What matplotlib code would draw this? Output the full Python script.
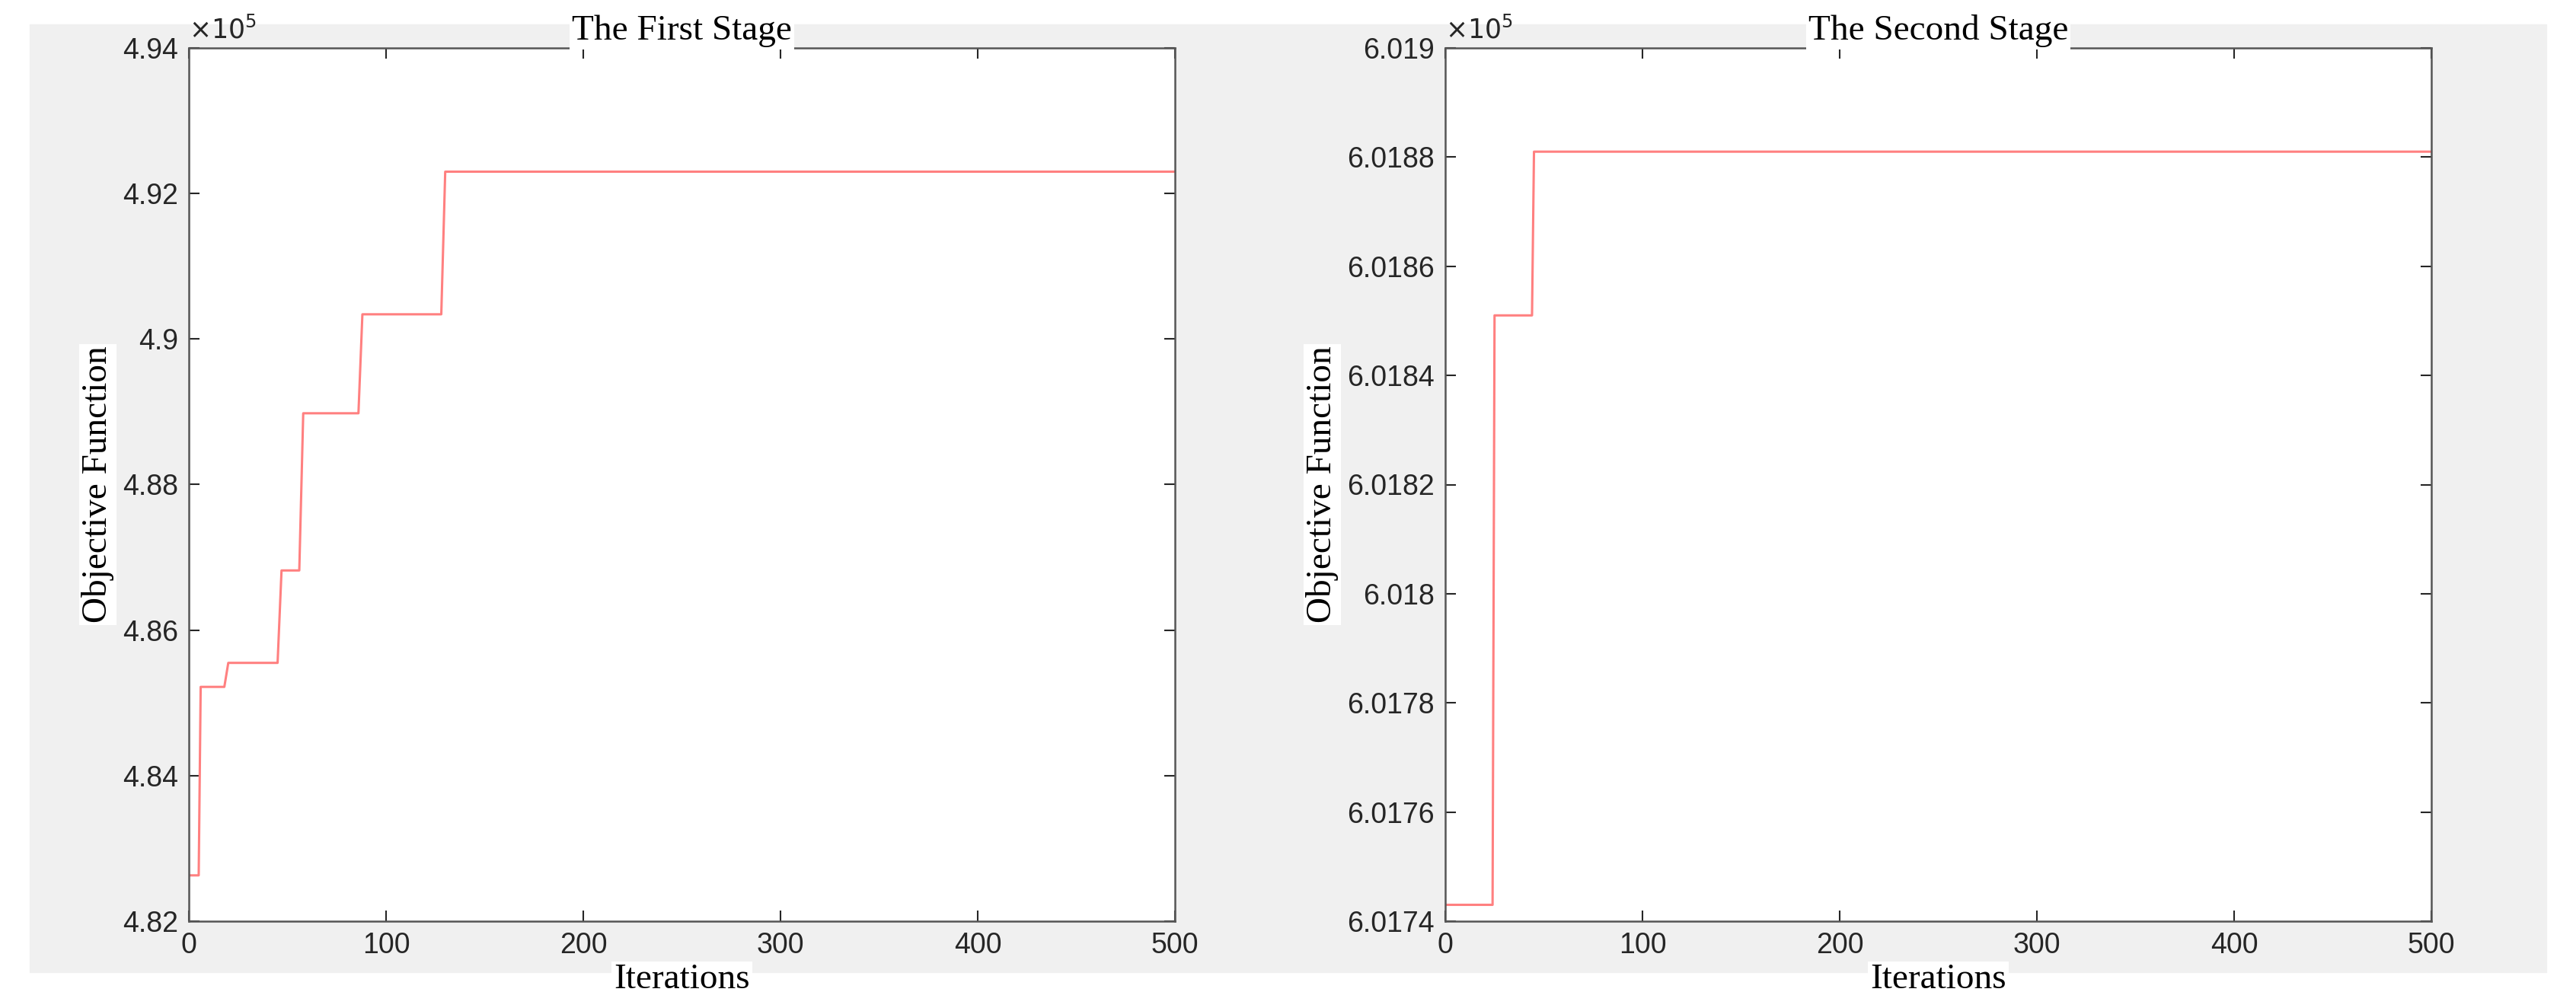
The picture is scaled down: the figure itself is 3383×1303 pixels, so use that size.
import matplotlib.pyplot as plt
from matplotlib.ticker import FuncFormatter

# stage 1 convergence (values in 1e5)
x1 = [0, 5, 6, 18, 20, 45, 47, 56, 58, 86, 88, 128, 130, 500]
y1 = [4.8263, 4.8263, 4.8522, 4.8522, 4.8555, 4.8555, 4.8682, 4.8682, 4.8898, 4.8898, 4.9034, 4.9034, 4.9230, 4.9230]
# stage 2 convergence (values in 1e5)
x2 = [0, 24, 25, 44, 45, 500]
y2 = [6.01743, 6.01743, 6.01851, 6.01851, 6.01881, 6.01881]

panels = [
    ('The First Stage', x1, y1, (4.82, 4.94), [4.82, 4.84, 4.86, 4.88, 4.9, 4.92, 4.94]),
    ('The Second Stage', x2, y2, (6.0174, 6.019),
     [6.0174, 6.0176, 6.0178, 6.018, 6.0182, 6.0184, 6.0186, 6.0188, 6.019]),
]

W, H = 3383, 1303
fig = plt.figure(figsize=(W / 100, H / 100), dpi=100)
fig.patch.set_facecolor('white')
bg = plt.Rectangle((39 / W, 1 - 1277 / H), (3344 - 39) / W, (1277 - 32) / H,
                   transform=fig.transFigure, color='#f0f0f0', zorder=-10)
fig.patches.append(bg)

lefts = [248, 1898]
serif = {'family': 'Liberation Serif', 'size': 34}
box = dict(facecolor='white', edgecolor='none', pad=2)
for (title, xs, ys, ylim, yt), l in zip(panels, lefts):
    ax = fig.add_axes([l / W, 1 - 1210 / H, 1295 / W, (1210 - 63) / H])
    ax.plot(xs, ys, color='#ff8080', lw=2.2)
    ax.set_xlim(0, 500)
    ax.set_ylim(*ylim)
    ax.set_xticks([0, 100, 200, 300, 400, 500])
    ax.set_yticks(yt)
    ax.yaxis.set_major_formatter(FuncFormatter(lambda v, p: '%g' % round(v, 6)))
    ax.tick_params(direction='in', length=10, width=1.5, top=True, right=True,
                   labelsize=27, colors='#262626', pad=10)
    for lab in ax.get_xticklabels() + ax.get_yticklabels():
        lab.set_family('Liberation Sans')
    for s in ax.spines.values():
        s.set_color('#555555')
        s.set_linewidth(1.8)
    ax.set_title(title, fontdict=serif, bbox=box, pad=8)
    ax.set_xlabel('Iterations', fontdict=serif, bbox=box, labelpad=4)
    ax.set_ylabel('Objective Function', fontdict=serif, bbox=box, labelpad=8)
    ax.text(0.0, 1.005, r'$\times10^5$', transform=ax.transAxes, fontsize=25,
            color='#262626', va='bottom', ha='left')

fig.savefig('out.png', dpi=100)
